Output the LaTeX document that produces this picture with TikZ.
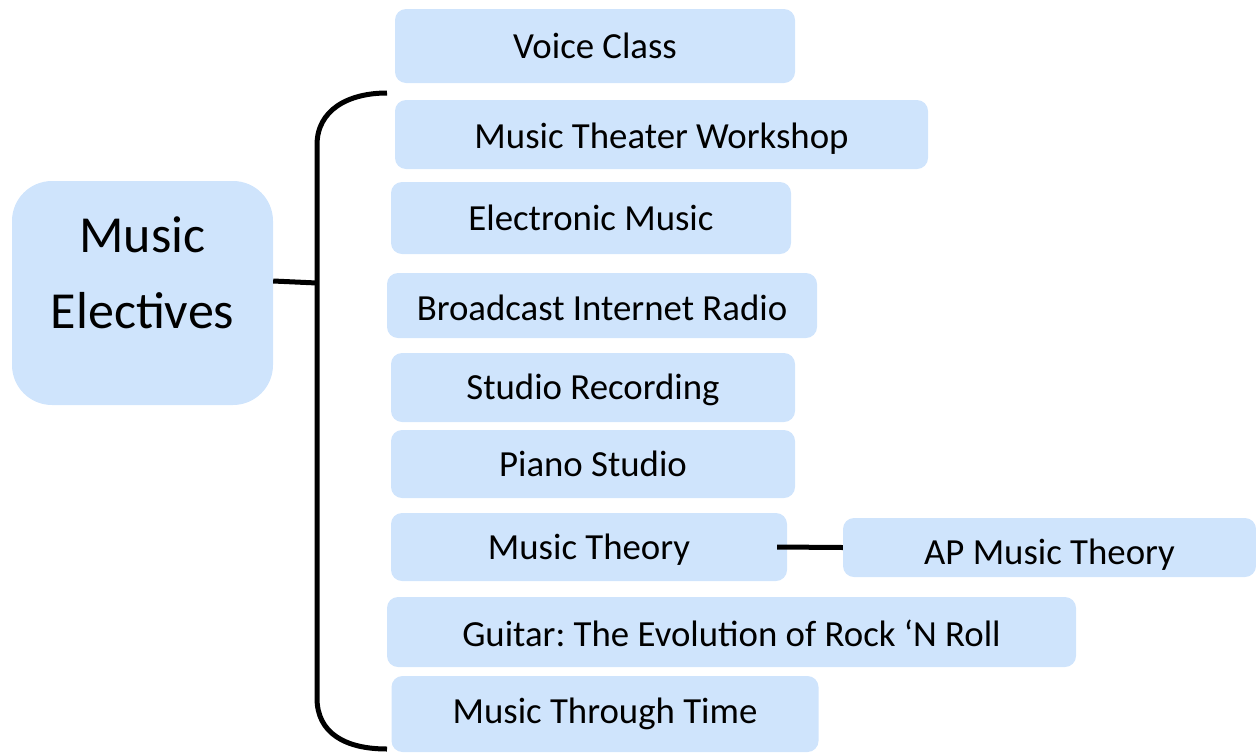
\documentclass[tikz,border=0pt]{standalone}
\usepackage{fontspec}
\setmainfont{Carlito}
\usetikzlibrary{positioning}
\definecolor{paleblue}{RGB}{207,228,252}
\frenchspacing

\begin{document}
\begin{tikzpicture}[
	x=1pt, y=-1pt,
	every node/.style={font=\fontsize{36.8}{44}\selectfont},
	course/.style={fill=paleblue, rounded corners=11pt, align=center, inner sep=0pt, text height=24pt, text depth=0pt},
	root/.style={fill=paleblue, rounded corners=40pt, align=center, inner sep=0pt, font=\fontsize{52}{76}\selectfont},
	link/.style={line width=5pt}
	]
	\useasboundingbox (0,0) rectangle (1256,753);
	
	\node[root, minimum width=261pt, minimum height=224pt, text height=110pt, text depth=40pt] (main) at (142.5,293) {Music\\Electives};
	
	\node[course, minimum width=400pt, minimum height=74pt] (voice) at (595,46) {Voice Class};
	\node[course, minimum width=533pt, minimum height=69pt, text height=27pt] (theater) at (661.5,134.5) {Music Theater Workshop};
	\node[course, minimum width=400pt, minimum height=72pt] (electronic) at (591,218) {Electronic Music};
	\node[course, minimum width=430pt, minimum height=65pt, text height=30pt] (radio) at (602,305.5) {Broadcast Internet Radio};
	\node[course, minimum width=404pt, minimum height=69pt] (studio) at (593,387.5) {Studio Recording};
	\node[course, minimum width=404pt, minimum height=68pt] (piano) at (593,464) {Piano Studio};
	\node[course, minimum width=396pt, minimum height=68pt] (theory) at (589,547) {Music Theory};
	\node[course, minimum width=413pt, minimum height=59pt, text height=33pt] (ap) at (1049.5,547.5) {AP Music Theory};
	\node[course, minimum width=689pt, minimum height=70pt, text height=28pt] (guitar) at (731.5,632) {Guitar: The Evolution of Rock ‘N Roll};
	\node[course, minimum width=427pt, minimum height=76pt, text height=19pt] (history) at (605,714) {Music Through Time};
	
	% bracket
	\coordinate (btop) at (387,93);
	\coordinate (bmid) at (317,283);
	\coordinate (bbot) at (387,749);
	\draw[link] (btop) .. controls (348,93) and (317,110) .. (317,145)
		-- (317,698) .. controls (317,733) and (345,749) .. (bbot);
	
	\draw[link] ([yshift=12pt]main.east) -- (bmid);
	\draw[link] ([xshift=-10pt]theory.east) -- (ap.west);
	
\end{tikzpicture}
\end{document}
